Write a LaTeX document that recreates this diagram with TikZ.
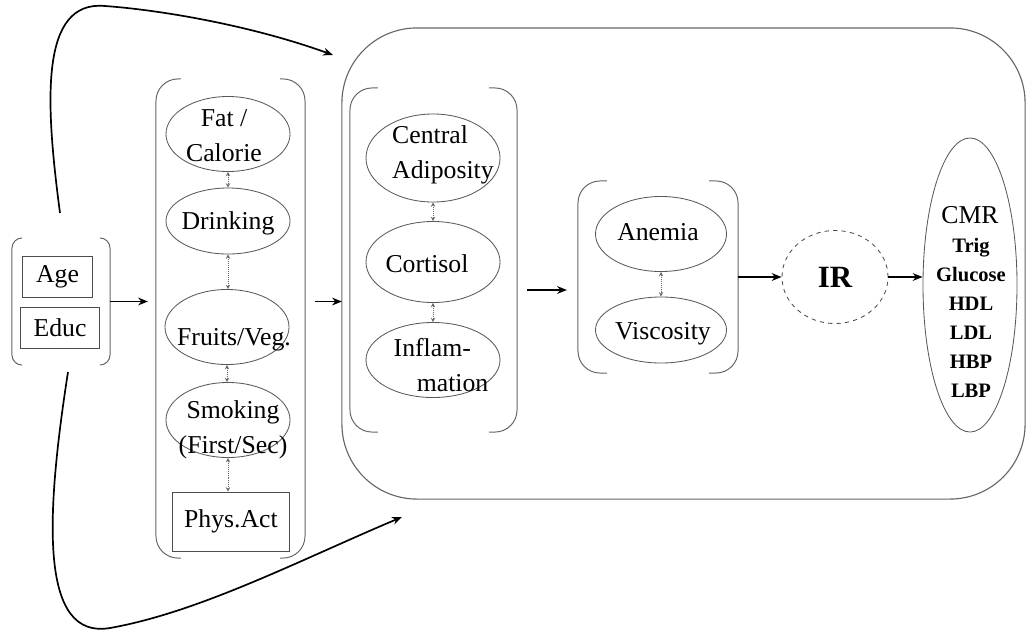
\documentclass[tikz,border=0pt]{standalone}
\usepackage{fontspec}
\setmainfont{Liberation Serif}
\usetikzlibrary{shapes.geometric, calc, arrows.meta}

\begin{document}
\begin{tikzpicture}[x=0.025cm, y=-0.025cm,
        ellip/.style={ellipse, draw=black!65, line width=0.6pt, minimum width=3.1cm, minimum height=1.875cm, inner sep=0pt},
        boxnode/.style={rectangle, draw=black!70, line width=0.7pt, inner sep=0pt, font=\fontsize{18.3}{25}\selectfont},
        lbl/.style={inner sep=0pt, align=center, font=\fontsize{18.3}{25}\selectfont},
        group/.style={rectangle, inner sep=0pt, outer sep=0pt},
        bracket/.style={draw=black!60, line width=0.7pt},
        flow/.style={-{Stealth[length=7pt, width=5.5pt]}, line width=1.2pt},
        assoc/.style={<->, densely dotted, draw=black!60, line width=0.4pt},
        >=stealth
    ]
        \useasboundingbox (0,0) rectangle (1026,633);

        % Outer box round the mediators
        \node[group, draw=black!60, line width=0.8pt, rounded corners=1.875cm, minimum width=17.075cm, minimum height=11.775cm] (mech) at (683.5,263.5) {};

        % Groups, each set between brackets
        \node[group, minimum width=2.45cm, minimum height=3.175cm] (gdemo) at (61,301.5) {};
        \node[group, minimum width=3.725cm, minimum height=11.975cm] (gdiet) at (230.5,318.5) {};
        \node[group, minimum width=4.175cm, minimum height=8.6cm] (gcns) at (433.5,260) {};
        \node[group, minimum width=4cm, minimum height=4.8cm] (gblood) at (658,277) {};
        \foreach \g/\s/\r in {gdemo/10/0.25cm, gdiet/25/0.55cm, gcns/28/0.55cm, gblood/29/0.55cm} {
            \draw[bracket, rounded corners=\r] ($(\g.north west)+(\s,0)$) -- (\g.north west) -- (\g.south west) -- ($(\g.south west)+(\s,0)$);
            \draw[bracket, rounded corners=\r] ($(\g.north east)+(-\s,0)$) -- (\g.north east) -- (\g.south east) -- ($(\g.south east)+(-\s,0)$);
        }

        % Demographics
        \node[boxnode, minimum width=1.725cm, minimum height=1.025cm] (age) at (57.5,276.5) {Age};
        \node[boxnode, minimum width=1.95cm, minimum height=1.025cm] (educ) at (60,327.5) {Educ};

        % Behaviours
        \node[ellip] (fat) at (228,134) {};
        \node[ellip, minimum height=1.65cm] (drink) at (228,221) {};
        \node[ellip] (fruit) at (227,327) {};
        \node[ellip] (smoke) at (228,420) {};
        \node[boxnode, minimum width=2.9cm, minimum height=1.475cm] (phys) at (231,521.5) {Phys.Act};
        \node[lbl] (fat-t) at (224,136) {Fat /\\Calorie};
        \node[lbl] (drink-t) at (228,223) {Drinking};
        \node[lbl] (fruit-t) at (234,340) {Fruits/Veg.};
        \node[lbl] (smoke-t) at (233,430) {Smoking\\(First/Sec)};

        % Stress and adiposity
        \node[ellip, minimum width=3.35cm, minimum height=2.2cm] (adipo) at (433,158) {};
        \node[ellip, minimum width=3.35cm, minimum height=2.025cm] (cort) at (433,262) {};
        \node[ellip, minimum width=3.35cm] (inflam) at (433,360) {};
        \node[lbl, align=left] (adipo-t) at (443,155) {Central\\Adiposity};
        \node[lbl] (cort-t) at (427,264) {Cortisol};
        \node[lbl, align=left] (inflam-t) at (441,365) {Inflam-\\\hspace*{0.9em}mation};

        % Blood
        \node[ellip, minimum width=3.275cm] (anemia) at (661,234) {};
        \node[ellip, minimum width=3.275cm, minimum height=1.65cm] (visc) at (661,330) {};
        \node[lbl] (anemia-t) at (658,232) {Anemia};
        \node[lbl] (visc-t) at (663,334) {Viscosity};

        % Insulin resistance and outcome
        \node[ellipse, dashed, draw=black!70, line width=0.6pt, minimum width=2.65cm, minimum height=2.325cm, inner sep=0pt, font=\bfseries\fontsize{22}{26}\selectfont] (ir) at (835,277) {IR};
        \node[ellipse, draw=black!65, line width=0.6pt, minimum width=2.35cm, minimum height=7.35cm, inner sep=0pt] (cmr) at (970,285) {};
        \node[lbl] (cmr-t) at (970,215) {CMR};
        \node[lbl, font=\bfseries\fontsize{14.6}{20.6}\selectfont] (cmr-list) at (971,318) {Trig\\Glucose\\HDL\\LDL\\HBP\\LBP};

        % Associations within groups
        \draw[assoc] (fat.south) -- (drink.north);
        \draw[assoc] (drink.south) -- (drink.south |- fruit.north);
        \draw[assoc] (fruit.south) -- (fruit.south |- smoke.north);
        \draw[assoc] (smoke.south) -- (smoke.south |- phys.north);
        \draw[assoc] (adipo.south) -- (cort.north);
        \draw[assoc] (cort.south) -- (inflam.north);
        \draw[assoc] (anemia.south) -- (visc.north);

        % Paths between groups
        \draw[flow] (gdemo.east) -- ($(gdemo.east -| gdiet.west)+(-8,0)$);
        \draw[flow] ($(gdiet.east |- gdemo.east)+(10,0)$) -- (gdemo.east -| mech.west);
        \draw[flow] ($(gcns.east)+(10,30)$) -- ($(gblood.west)+(-11,13)$);
        \draw[flow] (gblood.east) -- (ir.west);
        \draw[flow] (ir.east) -- (ir.east -| cmr.west);

        % Direct paths from demographics to the mediators
        \coordinate (toptip) at (333,55);
        \coordinate (bottip) at (402,517);
        \draw[flow] ($(gdemo.north)+(-1,-25)$) .. controls (45,100) and (40,0) .. (105,6) .. controls (160,10) and (250,25) .. (toptip);
        \draw[flow] ($(gdemo.south)+(7,7)$) .. controls (45,520) and (40,640) .. (110,628) .. controls (200,612) and (300,560) .. (bottip);
    \end{tikzpicture}
\end{document}
